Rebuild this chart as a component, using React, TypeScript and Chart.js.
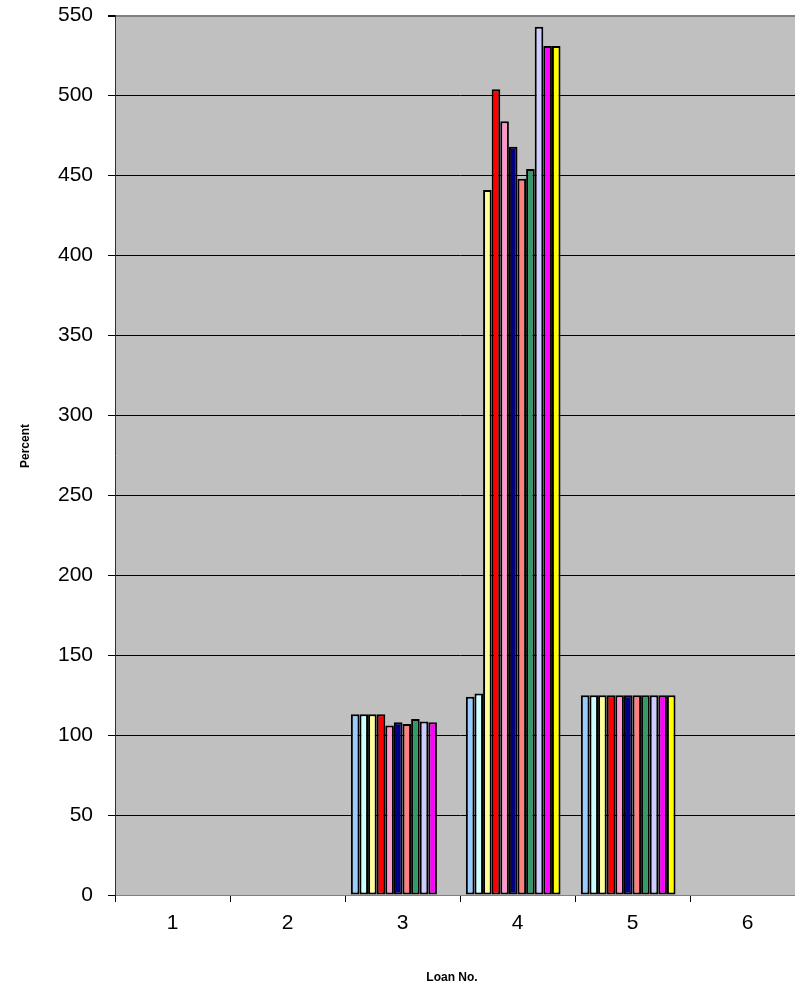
import React, { useEffect, useRef } from "react";
import { Chart, registerables } from "chart.js";

Chart.register(...registerables);

const categories = ["1", "2", "3", "4", "5", "6"];
const yTicks = [0, 50, 100, 150, 200, 250, 300, 350, 400, 450, 500, 550];
const yTitle = "Percent";
const xTitle = "Loan No.";

const seriesLightBlue = [null, null, 113, 124, 125, null];
const seriesLightCyan = [null, null, 113, 126, 125, null];
const seriesLightYellow = [null, null, 113, 441, 125, null];
const seriesRed = [null, null, 113, 504, 125, null];
const seriesPink = [null, null, 106, 484, 125, null];
const seriesNavy = [null, null, 108, 468, 125, null];
const seriesSalmon = [null, null, 107, 448, 125, null];
const seriesGreen = [null, null, 110, 454, 125, null];
const seriesLavender = [null, null, 108.5, 543, 125, null];
const seriesMagenta = [null, null, 108, 531, 125, null];
const seriesYellow = [null, null, null, 531, 125, null];
const seriesEmpty = [null, null, null, null, null, null];

const seriesList = [
  seriesLightBlue,
  seriesLightCyan,
  seriesLightYellow,
  seriesRed,
  seriesPink,
  seriesNavy,
  seriesSalmon,
  seriesGreen,
  seriesLavender,
  seriesMagenta,
  seriesYellow,
  seriesEmpty,
];
const seriesColors = [
  "#99CCFF",
  "#CCFFFF",
  "#FFFF99",
  "#FF0000",
  "#FF99CC",
  "#000080",
  "#FF8080",
  "#339966",
  "#CCCCFF",
  "#FF00FF",
  "#FFFF00",
  "#C0C0C0",
];

const FONT = "'Liberation Sans', Arial, sans-serif";
const SHIFT = 12;

export default function App() {
  const ref = useRef<HTMLCanvasElement | null>(null);

  useEffect(() => {
    if (!ref.current) return;
    const bgPlugin = {
      id: "plotBg",
      beforeDraw(chart: any) {
        const { ctx, chartArea } = chart;
        ctx.save();
        ctx.fillStyle = "#C0C0C0";
        ctx.fillRect(chartArea.left, chartArea.top, chartArea.right - chartArea.left, chartArea.bottom - chartArea.top);
        ctx.restore();
      },
      afterDraw(chart: any) {
        const { ctx } = chart;
        ctx.save();
        ctx.fillStyle = "#000";
        ctx.font = `bold 12px ${FONT}`;
        ctx.textAlign = "center";
        ctx.textBaseline = "middle";
        ctx.fillText(xTitle, 444, 978 + SHIFT);
        ctx.translate(18, 446 + SHIFT);
        ctx.rotate(-Math.PI / 2);
        ctx.fillText(yTitle, 0, 0);
        ctx.restore();
      },
    };

    const chart = new Chart(ref.current, {
      type: "bar",
      data: {
        labels: categories,
        datasets: seriesList.map((d, i) => ({
          label: "Series " + (i + 1),
          data: d as any,
          backgroundColor: seriesColors[i],
          borderColor: "#000000",
          borderWidth: 2,
          borderSkipped: false as any,
          barPercentage: 1,
          categoryPercentage: 0.898,
        })),
      },
      options: {
        animation: false,
        responsive: false,
        devicePixelRatio: 1,
        layout: { padding: { top: 0, right: 33, left: 0, bottom: 0 } },
        plugins: { legend: { display: false }, tooltip: { enabled: false }, title: { display: false } },
        scales: {
          x: {
            afterFit: (s: any) => {
              s.height = 91;
            },
            grid: {
              offset: true,
              drawOnChartArea: false,
              tickLength: 7,
              color: "#000000",
            },
            border: { display: true, color: "#808080", width: 1 },
            ticks: { color: "#000", font: { family: FONT, size: 21 }, padding: 9 },
          },
          y: {
            min: 0,
            max: 550,
            afterFit: (s: any) => {
              s.width = 107;
            },
            afterBuildTicks: (s: any) => {
              s.ticks = yTicks.map((v) => ({ value: v }));
            },
            grid: {
              tickLength: 7,
              color: (c: any) => (c.tick && (c.tick.value === 550 || c.tick.value === 0) ? "#808080" : "#000000"),
              lineWidth: (c: any) => (c.tick && c.tick.value === 550 ? 2 : 1),
              tickColor: "#000000",
            },
            border: { display: true, color: "#303030", width: 1 },
            ticks: { color: "#000", font: { family: FONT, size: 21 }, padding: 15 },
          },
        },
      },
      plugins: [bgPlugin],
    });
    return () => chart.destroy();
  }, []);

  return (
    <div style={{ position: "absolute", top: 0, left: 8, width: 787, height: 986, overflow: "hidden" }}>
      <canvas
        ref={ref}
        width={830}
        height={986 + SHIFT}
        style={{ display: "block", width: 830, height: 986 + SHIFT, marginTop: -SHIFT }}
      />
    </div>
  );
}
